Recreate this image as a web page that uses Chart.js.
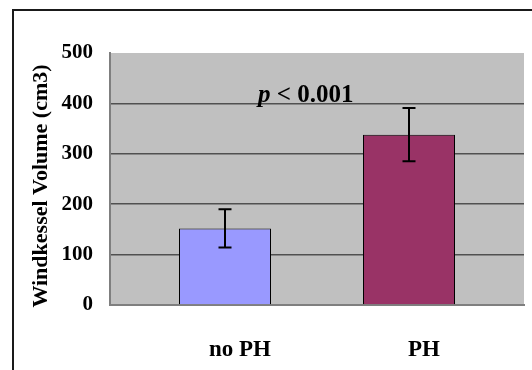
<!DOCTYPE html>
<html lang="en">
<head>
    <meta charset="UTF-8">
    <title>Windkessel Volume</title>
    <script src="https://cdn.jsdelivr.net/npm/chart.js"></script>
    <style>
        html, body {
            margin: 0;
            padding: 0;
            background: #ffffff;
        }
        #wrap {
            width: 532px;
            height: 370px;
        }
    </style>
</head>
<body>
    <div id="wrap"><canvas id="volChart" width="532" height="370"></canvas></div>

    <script>
        // data
        const groups = ["no PH", "PH"];
        const volumes = [152, 338];      // mean Windkessel volume (cm3)
        const errors = [38, 53];         // error bar half-length
        const barColors = ["#9999ff", "#993366"];
        const yTicks = [0, 100, 200, 300, 400, 500];
        const yTitle = "Windkessel Volume (cm3)";

        const serif = "'Liberation Serif', 'Times New Roman', serif";

        // grey plot background + the outer frame
        const backdrop = {
            id: "backdrop",
            beforeDraw(chart) {
                const ctx = chart.ctx;
                const a = chart.chartArea;
                ctx.save();
                ctx.fillStyle = "#c0c0c0";
                ctx.fillRect(a.left, a.top, a.right - a.left, a.bottom - a.top);
                ctx.strokeStyle = "#1a1a1a";
                ctx.lineWidth = 2;
                ctx.beginPath();
                ctx.moveTo(13, 370);
                ctx.lineTo(13, 10);
                ctx.lineTo(532, 10);
                ctx.stroke();
                ctx.restore();
            }
        };

        // error bars, the p-value text and the y title
        const extras = {
            id: "extras",
            afterDatasetsDraw(chart) {
                const ctx = chart.ctx;
                const xs = chart.scales.x;
                const ys = chart.scales.y;
                ctx.save();
                ctx.strokeStyle = "#000000";
                ctx.lineWidth = 2;
                volumes.forEach((v, i) => {
                    const x = xs.getPixelForValue(i);
                    const yHi = ys.getPixelForValue(v + errors[i]);
                    const yLo = ys.getPixelForValue(v - errors[i]);
                    ctx.beginPath();
                    ctx.moveTo(x, yHi);
                    ctx.lineTo(x, yLo);
                    ctx.moveTo(x - 6.5, yHi);
                    ctx.lineTo(x + 6.5, yHi);
                    ctx.moveTo(x - 6.5, yLo);
                    ctx.lineTo(x + 6.5, yLo);
                    ctx.stroke();
                });

                // "p < 0.001"
                let tx = xs.getPixelForValue(0.18);
                const ty = ys.getPixelForValue(400) - 1;
                ctx.fillStyle = "#000000";
                ctx.textBaseline = "alphabetic";
                ctx.textAlign = "left";
                ctx.font = "italic bold 25px " + serif;
                ctx.fillText("p", tx, ty);
                tx += ctx.measureText("p").width;
                ctx.font = "bold 25px " + serif;
                ctx.fillText(" < 0.001", tx, ty);

                // rotated axis title
                ctx.translate(41, 186);
                ctx.rotate(-Math.PI / 2);
                ctx.textAlign = "center";
                ctx.textBaseline = "middle";
                ctx.font = "bold 22px " + serif;
                ctx.fillText(yTitle, 0, 0);
                ctx.restore();
            }
        };

        new Chart(document.getElementById("volChart"), {
            type: "bar",
            data: {
                datasets: [{
                    data: volumes.map((v, i) => ({ x: i, y: v })),
                    backgroundColor: barColors,
                    borderColor: "#000000",
                    borderWidth: 1,
                    barPercentage: 0.5,
                    categoryPercentage: 1
                }]
            },
            options: {
                responsive: false,
                animation: false,
                layout: {
                    padding: { left: 28, right: 8, top: 53, bottom: 0 }
                },
                plugins: {
                    legend: { display: false },
                    tooltip: { enabled: false }
                },
                scales: {
                    x: {
                        type: "linear",
                        offset: false,
                        min: -0.625,
                        max: 1.625,
                        afterBuildTicks: (scale) => {
                            scale.ticks = groups.map((g, i) => ({ value: i }));
                        },
                        afterFit: (scale) => { scale.height = 65; },
                        grid: { display: false, drawTicks: false },
                        border: { color: "#7f7f7f", width: 2 },
                        ticks: {
                            callback: (v) => groups[v],
                            color: "#000000",
                            padding: 31,
                            labelOffset: 15,
                            maxRotation: 0,
                            font: { family: serif, size: 23, weight: "bold" }
                        }
                    },
                    y: {
                        min: 0,
                        max: 500,
                        afterBuildTicks: (scale) => {
                            scale.ticks = yTicks.map(v => ({ value: v }));
                        },
                        afterFit: (scale) => { scale.width = 82; },
                        grid: {
                            drawTicks: false,
                            color: (c) => (c.tick.value === 0 || c.tick.value === 500) ? "rgba(0,0,0,0)" : "#505050",
                            lineWidth: 1.5
                        },
                        border: { color: "#7f7f7f", width: 2 },
                        ticks: {
                            color: "#000000",
                            padding: 17,
                            font: { family: serif, size: 21, weight: "bold" }
                        }
                    }
                }
            },
            plugins: [backdrop, extras]
        });
    </script>
</body>
</html>
